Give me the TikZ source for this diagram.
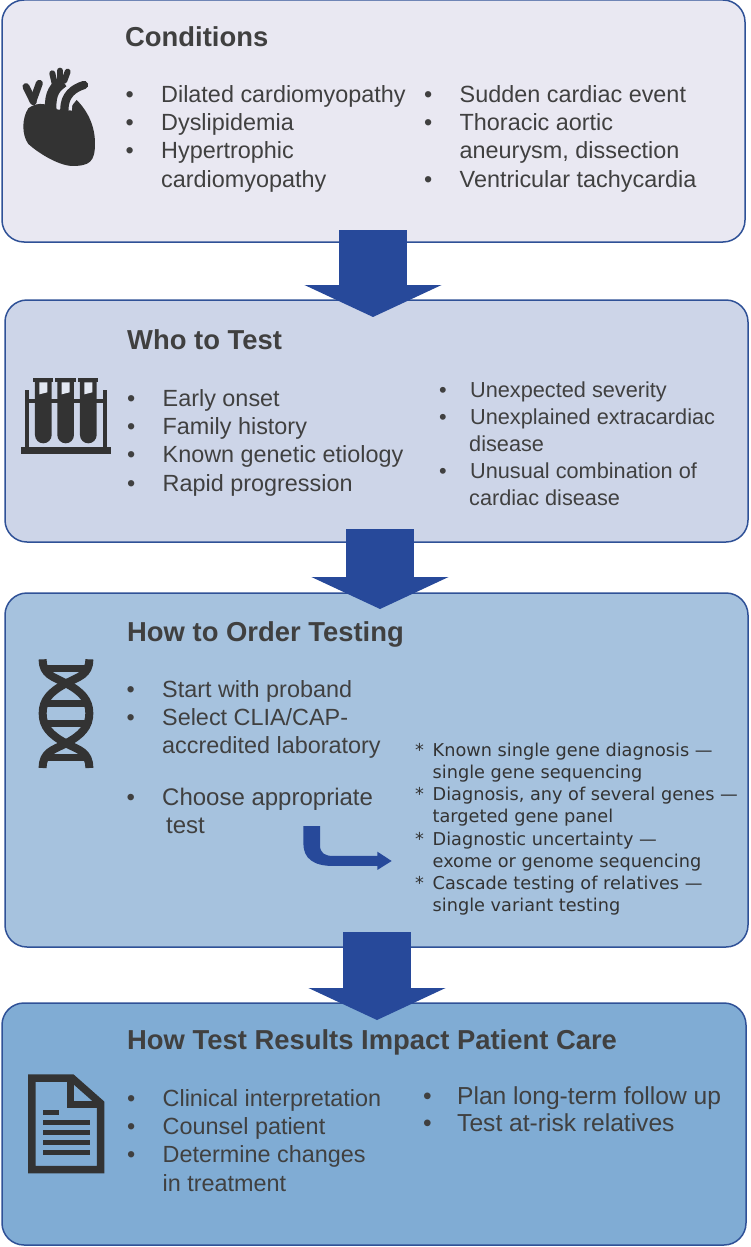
\documentclass[tikz,border=0pt]{standalone}
\usepackage{fontspec}
\setmainfont{Liberation Sans}
\newfontfamily\notefont{DejaVu Sans}
\usetikzlibrary{arrows.meta}
\definecolor{boxline}{HTML}{2F5197}
\definecolor{arrowblue}{HTML}{27499A}
\definecolor{inktext}{HTML}{404040}
\definecolor{inkicon}{HTML}{333333}
\definecolor{fillA}{HTML}{E9E8F2}
\definecolor{fillB}{HTML}{CDD5E8}
\definecolor{fillC}{HTML}{A6C2DE}
\definecolor{fillD}{HTML}{80ACD4}
\newcommand{\bul}{\makebox[35.5pt][l]{\textbullet}}
\newcommand{\nobul}{\hspace*{35.5pt}}
\newcommand{\bulr}{\makebox[31pt][l]{\textbullet}}
\newcommand{\nobulr}{\hspace*{30pt}}
\newcommand{\bulc}{\makebox[34pt][l]{\textbullet}}
\newcommand{\notestar}{\makebox[17.5pt][l]{*}}
\newcommand{\nonote}{\hspace*{17.5pt}}
\tikzset{
  panel/.style={draw=boxline,line width=1.5pt,rounded corners=22pt},
  flow/.style={arrowblue,line width=68pt,-{Triangle[length=32pt,width=136pt]}},
  heading/.style={anchor=base west,inner sep=0pt,text=inktext,font=\fontsize{27.4}{30}\selectfont\bfseries},
  items/.style={anchor=north west,inner sep=0pt,align=left,text=inktext,font=\fontsize{23.4}{28.4}\selectfont},
  itemsb/.style={items,font=\fontsize{21.7}{26.9}\selectfont},
  itemsc/.style={items,font=\fontsize{24.6}{27.5}\selectfont},
  itemsd/.style={items,font=\fontsize{24}{27.5}\selectfont},
  notes/.style={anchor=north west,inner sep=0pt,align=left,text=black!80,font=\notefont\fontsize{17.7}{22.1}\selectfont},
  icon/.style={draw=inkicon,line width=#1},
  icon/.default=7pt,
}
\begin{document}
\begin{tikzpicture}[x=1pt,y=-1pt]
  \useasboundingbox (0,0) rectangle (750,1247);
  % panels
  \draw[panel,fill=fillA] (2,0) rectangle (745,242);
  \draw[panel,fill=fillB] (5,300) rectangle (748,542);
  \draw[panel,fill=fillC] (5,593) rectangle (748,947);
  \draw[panel,fill=fillD] (2,1003) rectangle (746,1245);
  % arrows between panels
  \coordinate (flow1a) at (373,230);
  \coordinate (flow1b) at (373,317);
  \coordinate (flow2a) at (380,529);
  \coordinate (flow2b) at (380,609);
  \coordinate (flow3a) at (377,932);
  \coordinate (flow3b) at (377,1020);
  \draw[flow] (flow1a) -- (flow1b);
  \draw[flow] (flow2a) -- (flow2b);
  \draw[flow] (flow3a) -- (flow3b);
  % conditions
  \node[heading] (condhead) at (125,47) {Conditions};
  \node[items] (condleft) at (125.5,85) {\bul Dilated cardiomyopathy\\\bul Dyslipidemia\\\bul Hypertrophic\\\nobul cardiomyopathy};
  \node[items] (condright) at (424,85) {\bul Sudden cardiac event\\\bul Thoracic aortic\\\nobul aneurysm, dissection\\\bul Ventricular tachycardia};
  % who to test
  \node[heading] (whohead) at (127,349) {Who to Test};
  \node[items] (wholeft) at (127,389) {\bul Early onset\\\bul Family history\\\bul Known genetic etiology\\\bul Rapid progression};
  \node[itemsb] (whoright) at (439,382) {\bulr Unexpected severity\\\bulr Unexplained extracardiac\\\nobulr disease\\\bulr Unusual combination of\\\nobulr cardiac disease};
  % how to order
  \node[heading] (orderhead) at (127,641) {How to Order Testing};
  \node[items] (orderlist) at (126.5,680) {\bul Start with proband\\\bul Select CLIA/CAP-\\\nobul accredited laboratory};
  \node[itemsd] (ordertest) at (126.5,788) {\bul Choose appropriate\\\nobul\hspace*{4pt}test};
  \node[notes] (ordernotes) at (415,743) {\notestar Known single gene diagnosis —\\\nonote single gene sequencing\\\notestar Diagnosis, any of several genes —\\\nonote targeted gene panel\\\notestar Diagnostic uncertainty —\\\nonote exome or genome sequencing\\\notestar Cascade testing of relatives —\\\nonote single variant testing};
  % bent arrow towards the notes
  \begin{scope}[shift={(290,730)},x=0.3333pt,y=-0.3333pt]
    \fill[arrowblue] (90,288) -- (90,345) .. controls (90,370) and (105,378) .. (130,378)
      -- (262,378) -- (262,365) -- (305,393) -- (262,420) -- (262,408) -- (130,408)
      .. controls (70,408) and (40,385) .. (40,340) -- (40,288) -- cycle;
  \end{scope}
  % impact
  \node[heading] (carehead) at (127,1049) {How Test Results Impact Patient Care};
  \node[items] (careleft) at (127,1089) {\bul Clinical interpretation\\\bul Counsel patient\\\bul Determine changes\\\nobul in treatment};
  \node[itemsc] (careright) at (423,1086) {\bulc Plan long-term follow up\\\bulc Test at-risk relatives};
  % heart
  \begin{scope}[shift={(0,40)},x=0.3333pt,y=-0.3333pt]
    \fill[inkicon] (85,205) .. controls (105,190) and (130,185) .. (165,205)
      -- (205,210) -- (230,180) .. controls (265,215) and (285,260) .. (285,310)
      .. controls (285,365) and (270,378) .. (215,378)
      .. controls (170,375) and (110,335) .. (85,312)
      .. controls (65,285) and (65,235) .. (85,205) -- cycle;
    \draw[icon,line cap=round] (100,185) -- (78,140);
    \draw[icon,line cap=round] (100,180) -- (118,130);
    \draw[icon=11.5pt] (152,208) .. controls (150,160) and (165,140) .. (190,125);
    \draw[icon=6pt,line cap=round] (165,135) -- (157,100);
    \draw[icon=6pt,line cap=round] (180,130) -- (180,92);
    \draw[icon=6pt,line cap=round] (193,122) -- (203,95);
    \draw[draw=fillA,line width=15pt] (193,210) .. controls (193,165) and (220,145) .. (262,132);
    \draw[icon=8.3pt,line cap=round] (193,210) .. controls (193,165) and (220,145) .. (252,135);
  \end{scope}
  % test tubes
  \begin{scope}[shift={(0,360)},x=0.3333pt,y=-0.3333pt]
    \fill[inkicon] (62,262) rectangle (332,282);
    \fill[inkicon] (75,90) rectangle (87,270);
    \fill[inkicon] (308,90) rectangle (320,270);
    \fill[inkicon] (87,118) rectangle (308,130);
    \foreach \tubex in {105,172,240}{
      \fill[inkicon] (\tubex,60) -- (\tubex+50,60) -- (\tubex+50,225)
        arc[start angle=0,end angle=180,x radius=25,y radius=25] -- cycle;
      \fill[inkicon] (\tubex-7,55) rectangle (\tubex+55,67);
      \fill[fillB!55!white] (\tubex+13,67) -- (\tubex+37,67) -- (\tubex+37,97) -- (\tubex+13,103) -- cycle;
    }
  \end{scope}
  % dna
  \begin{scope}[shift={(20,650)},x=0.3333pt,y=-0.3333pt]
    \draw[icon=8pt] (68,28) .. controls (68,75) and (100,80) .. (138,100) .. controls (185,125) and (208,150) .. (208,190)
      .. controls (208,230) and (185,255) .. (138,280) .. controls (100,300) and (68,305) .. (68,354);
    \draw[icon=8pt] (208,28) .. controls (208,75) and (176,80) .. (138,100) .. controls (91,125) and (68,150) .. (68,190)
      .. controls (68,230) and (91,255) .. (138,280) .. controls (176,300) and (208,305) .. (208,354);
    \foreach \rungy in {55,161,221,322}{
      \draw[icon=6.7pt] (75,\rungy) -- (201,\rungy);
    }
  \end{scope}
  % document
  \begin{scope}[shift={(10,1060)},x=0.3333pt,y=-0.3333pt]
    \draw[icon=7.5pt,line join=miter] (66,54) -- (186,54) -- (272,130) -- (272,329) -- (66,329) -- cycle;
    \draw[icon=7.5pt] (181,50) -- (181,133) -- (272,133);
    \draw[icon=5pt] (100,158) -- (148,158);
    \foreach \liney in {188,217,247,276}{
      \draw[icon=5pt] (100,\liney) -- (240,\liney);
    }
  \end{scope}
\end{tikzpicture}
\end{document}
